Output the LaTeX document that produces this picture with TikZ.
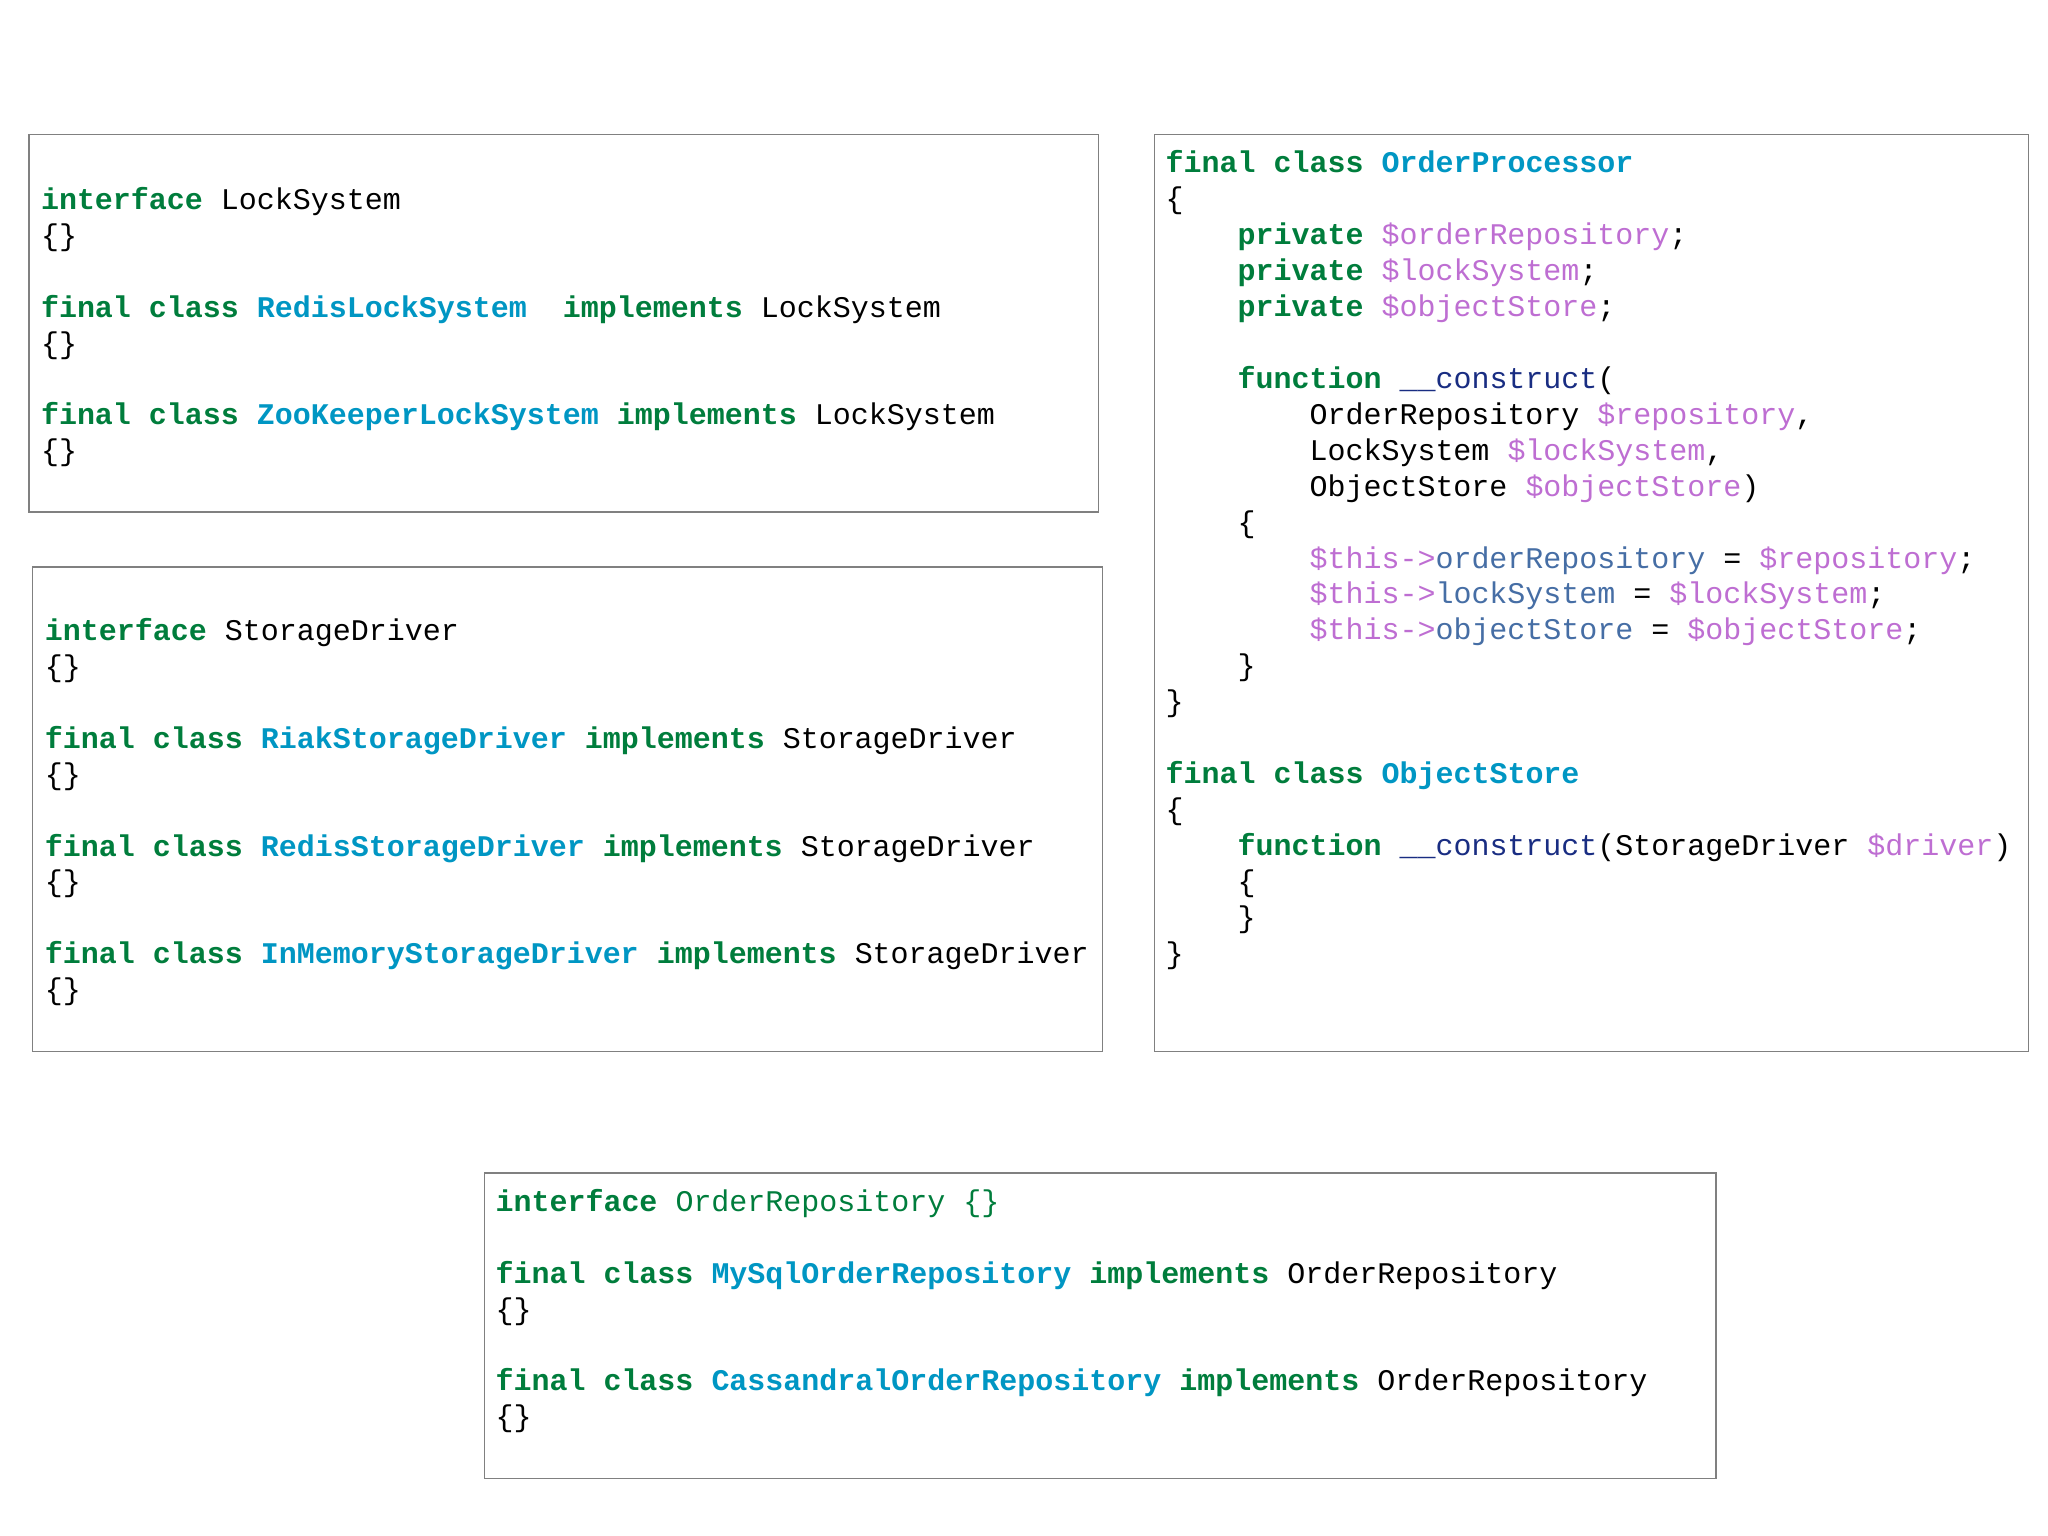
\documentclass[tikz,border=0pt]{standalone}
\usepackage{fontspec}
\setmonofont{Liberation Mono}
\usetikzlibrary{positioning}
\definecolor{kwgreen}{RGB}{0,125,60}
\definecolor{clscyan}{RGB}{0,150,195}
\definecolor{varpurple}{RGB}{190,110,210}
\definecolor{fnblue}{RGB}{25,45,130}
\definecolor{propblue}{RGB}{70,110,165}
\newcommand{\kw}[1]{\textcolor{kwgreen}{\bfseries #1}}
\newcommand{\cls}[1]{\textcolor{clscyan}{\bfseries #1}}
\newcommand{\vr}[1]{\textcolor{varpurple}{#1}}
\newcommand{\fn}[1]{\textcolor{fnblue}{#1}}
\newcommand{\prp}[1]{\textcolor{propblue}{#1}}
\newcommand{\ind}[1]{\hspace*{#1\dimexpr0.6em\relax}}
\begin{document}
\begin{tikzpicture}[x=0.5pt,y=-0.5pt,
    codebox/.style={draw=black!50, line width=0.6pt},
    code/.style={anchor=north west, inner sep=0pt, align=left,
      font=\fontsize{11.48}{13.75}\selectfont\ttfamily}]
  \useasboundingbox (0,0) rectangle (1568,1176);
  % boxes
  \draw[codebox] (22,103) rectangle (841,392);
  \draw[codebox] (25,434) rectangle (844,805);
  \draw[codebox] (884,103) rectangle (1553,805);
  \draw[codebox] (371,898) rectangle (1314,1132);
  % lock systems
  \node[code] (lock) at (31,143) {%
    \kw{interface} LockSystem\\
    \{\}\\[13.75pt]
    \kw{final class} \cls{RedisLockSystem} \ind{1}\kw{implements} LockSystem\\
    \{\}\\[13.75pt]
    \kw{final class} \cls{ZooKeeperLockSystem} \kw{implements} LockSystem\\
    \{\}};
  % storage drivers
  \node[code] (storage) at (34,473) {%
    \kw{interface} StorageDriver\\
    \{\}\\[13.75pt]
    \kw{final class} \cls{RiakStorageDriver} \kw{implements} StorageDriver\\
    \{\}\\[13.75pt]
    \kw{final class} \cls{RedisStorageDriver} \kw{implements} StorageDriver\\
    \{\}\\[13.75pt]
    \kw{final class} \cls{InMemoryStorageDriver} \kw{implements} StorageDriver\\
    \{\}};
  % order processor
  \node[code] (processor) at (892,115) {%
    \kw{final class} \cls{OrderProcessor}\\
    \{\\
    \ind{4}\kw{private} \vr{\$orderRepository};\\
    \ind{4}\kw{private} \vr{\$lockSystem};\\
    \ind{4}\kw{private} \vr{\$objectStore};\\[13.75pt]
    \ind{4}\kw{function} \fn{\_\_construct}(\\
    \ind{8}OrderRepository \vr{\$repository},\\
    \ind{8}LockSystem \vr{\$lockSystem},\\
    \ind{8}ObjectStore \vr{\$objectStore})\\
    \ind{4}\{\\
    \ind{8}\vr{\$this->}\prp{orderRepository} = \vr{\$repository};\\
    \ind{8}\vr{\$this->}\prp{lockSystem} = \vr{\$lockSystem};\\
    \ind{8}\vr{\$this->}\prp{objectStore} = \vr{\$objectStore};\\
    \ind{4}\}\\
    \}\\[13.75pt]
    \kw{final class} \cls{ObjectStore}\\
    \{\\
    \ind{4}\kw{function} \fn{\_\_construct}(StorageDriver \vr{\$driver})\\
    \ind{4}\{\\
    \ind{4}\}\\
    \}};
  % order repositories
  \node[code] (repository) at (379,910) {%
    \kw{interface} \textcolor{kwgreen}{OrderRepository \{\}}\\[13.75pt]
    \kw{final class} \cls{MySqlOrderRepository} \kw{implements} OrderRepository\\
    \{\}\\[13.75pt]
    \kw{final class} \cls{CassandralOrderRepository} \kw{implements} OrderRepository\\
    \{\}};
\end{tikzpicture}
\end{document}
